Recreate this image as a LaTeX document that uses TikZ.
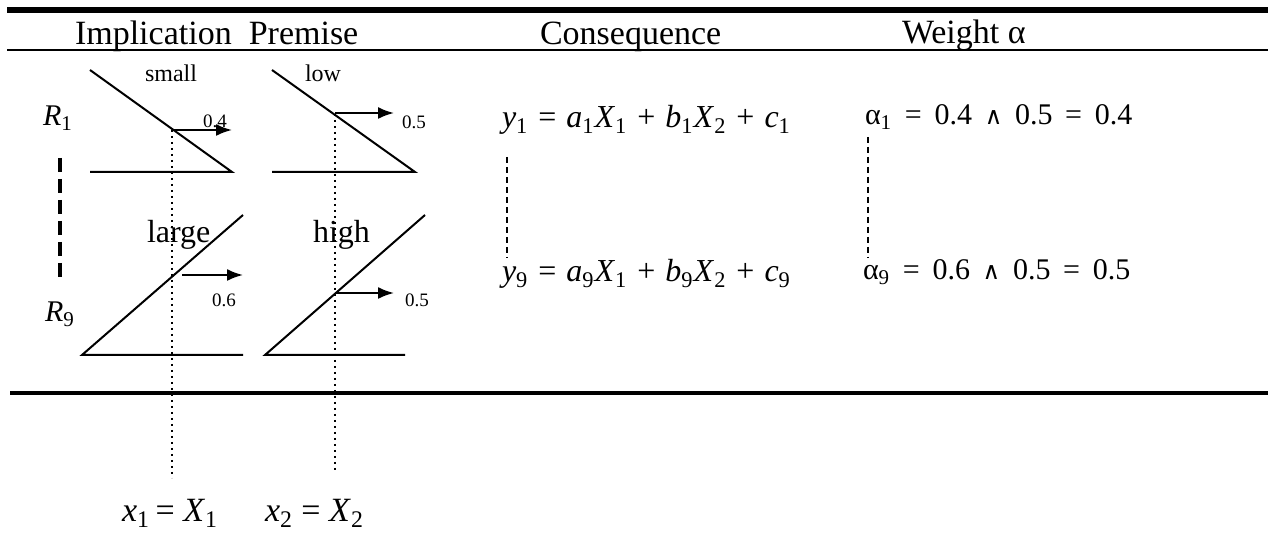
\documentclass[tikz,border=0pt]{standalone}
\usepackage{fontspec}
\setmainfont{Liberation Serif}
\newfontfamily\dejaf{DejaVu Sans}
\usetikzlibrary{arrows.meta}
\newcommand{\sbs}[1]{\textsubscript{#1}}
\newcommand{\wedgesym}{{\dejaf\fontsize{12}{14}\selectfont ∧}}
\newcommand{\wop}[1]{\hspace{2.6pt} #1 \hspace{2.6pt}}
\newcommand{\yop}[1]{\hspace{1pt} #1 \hspace{1pt}}
\tikzset{
  every node/.style={inner sep=0pt, outer sep=0pt, anchor=base west},
  mf/.style={line width=1pt},
  guide/.style={line width=1pt, dotted},
  cut/.style={line width=1pt, -{Latex[length=8pt,width=6pt]}},
  bigdash/.style={line width=2pt, dash pattern=on 7pt off 3.5pt},
  smalldash/.style={line width=0.8pt, dash pattern=on 3pt off 2pt},
  hdr/.style={font=\fontsize{17}{20}\selectfont},
  lbl/.style={font=\fontsize{12}{14}\selectfont},
  lblb/.style={font=\fontsize{16}{19}\selectfont},
  num/.style={font=\fontsize{9.5}{11}\selectfont},
  eq/.style={font=\fontsize{16}{19}\selectfont},
  req/.style={font=\fontsize{15}{18}\selectfont},
  weq/.style={font=\fontsize{15}{18}\selectfont},
  xeq/.style={font=\fontsize{17}{20}\selectfont},
}
\begin{document}
\begin{tikzpicture}[x=0.5pt,y=-0.5pt]
\useasboundingbox (0,0) rectangle (1268,544);
% rules
\coordinate (t1) at (7,10); \coordinate (t2) at (1268,10);
\draw[line width=3pt] (t1) -- (t2);
\coordinate (h1) at (7,50); \coordinate (h2) at (1268,50);
\draw[line width=0.8pt] (h1) -- (h2);
\coordinate (b1) at (10,393); \coordinate (b2) at (1268,393);
\draw[line width=2pt] (b1) -- (b2);
% headers
\node[hdr] (hImp) at (75,45) {Implication\ \ Premise};
\node[hdr] (hCon) at (540,45) {Consequence};
\node[hdr] (hW) at (902,44) {Weight α};
% rule labels
\node[req] (R1) at (43,126) {\textit{R}\sbs{1}};
\node[req] (R9) at (45,322) {\textit{R}\sbs{9}};
\coordinate (rd1) at (60,158); \coordinate (rd2) at (60,277);
\draw[bigdash] (rd1) -- (rd2);
% small
\coordinate (s1) at (90,70); \coordinate (s2) at (232,172); \coordinate (s0) at (90,172);
\draw[mf] (s1) -- (s2) -- (s0);
\node[lbl] (small) at (145,82) {small};
% low
\coordinate (l1) at (272,70); \coordinate (l2) at (415,172); \coordinate (l0) at (272,172);
\draw[mf] (l1) -- (l2) -- (l0);
\node[lbl] (low) at (305,82) {low};
% large
\coordinate (g1) at (82,355); \coordinate (g2) at (243,215); \coordinate (g3) at (243,355);
\draw[mf] (g2) -- (g1) -- (g3);
\node[lblb] (large) at (147,243) {large};
% high
\coordinate (k1) at (265,355); \coordinate (k2) at (425,215); \coordinate (k3) at (405,355);
\draw[mf] (k2) -- (k1) -- (k3);
\node[lblb] (high) at (313,243) {high};
% guides
\coordinate (x1top) at (172,130); \coordinate (x1bot) at (172,478);
\coordinate (x2top) at (335,114); \coordinate (x2bot) at (335,473);
\draw[guide] (x1top) -- (x1bot);
\draw[guide] (x2top) -- (x2bot);
% cuts
\coordinate (a1s) at (172,130); \coordinate (a1e) at (232,130);
\draw[cut] (a1s) -- (a1e);
\node[num] (n04) at (203,128) {0.4};
\coordinate (a2s) at (335,113); \coordinate (a2e) at (394,113);
\draw[cut] (a2s) -- (a2e);
\node[num] (n05a) at (402,129) {0.5};
\coordinate (a3s) at (182,275); \coordinate (a3e) at (243,275);
\draw[cut] (a3s) -- (a3e);
\node[num] (n06) at (212,307) {0.6};
\coordinate (a4s) at (335,293); \coordinate (a4e) at (394,293);
\draw[cut] (a4s) -- (a4e);
\node[num] (n05b) at (405,307) {0.5};
% inputs
\node[xeq] (xin1) at (122,522) {\textit{x}\sbs{1}\,=\ \textit{X}\sbs{1}};
\node[xeq] (xin2) at (265,522) {\textit{x}\sbs{2}\ =\ \textit{X}\sbs{2}};
% consequences
\node[eq] (y1) at (502,128) {\textit{y}\sbs{1}\yop{=}\textit{a}\sbs{1}\textit{X}\sbs{1}\yop{+}\textit{b}\sbs{1}\textit{X}\sbs{2}\yop{+}\textit{c}\sbs{1}};
\node[eq] (y9) at (502,282) {\textit{y}\sbs{9}\yop{=}\textit{a}\sbs{9}\textit{X}\sbs{1}\yop{+}\textit{b}\sbs{9}\textit{X}\sbs{2}\yop{+}\textit{c}\sbs{9}};
\coordinate (yd1) at (507,157); \coordinate (yd2) at (507,258);
\draw[smalldash] (yd1) -- (yd2);
% weights
\node[weq] (w1) at (865,125) {α\sbs{1}\wop{=}0.4\wop{\wedgesym}0.5\wop{=}0.4};
\node[weq] (w9) at (863,280) {α\sbs{9}\wop{=}0.6\wop{\wedgesym}0.5\wop{=}0.5};
\coordinate (wd1) at (868,137); \coordinate (wd2) at (868,258);
\draw[smalldash] (wd1) -- (wd2);
\end{tikzpicture}
\end{document}
